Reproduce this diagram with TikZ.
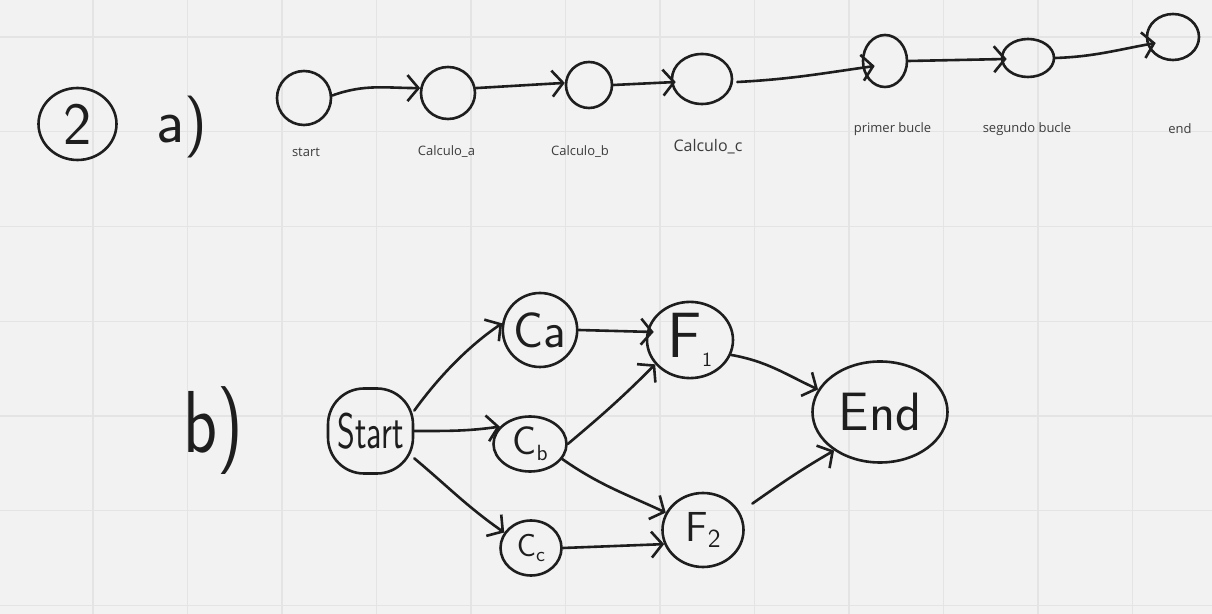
\documentclass[tikz,border=0pt]{standalone}
\usepackage{fontspec}
\newfontfamily\labelfont{Open Sans}
\usetikzlibrary{arrows.meta,shapes.geometric,calc}
\definecolor{paper}{HTML}{F2F2F2}
\definecolor{gridline}{HTML}{E4E4E4}
\definecolor{ink}{HTML}{1E1E1E}
\definecolor{labelgray}{HTML}{3C3C3C}
\newcommand\hwsize[1]{\sffamily\fontsize{#1}{#1}\selectfont}
\newcommand\hwsub[2]{\raisebox{-0.15em}{\fontsize{#1}{#1}\selectfont #2}}
\begin{document}
\begin{tikzpicture}[x=0.5pt,y=-0.5pt,
  ink line/.style={draw=ink, line width=1.3pt, line cap=round, line join=round},
  blob/.style={ellipse, ink line, inner sep=0pt, text=ink},
  flow/.style={ink line, -{Straight Barb[length=5.5pt,width=13pt]}},
  tag/.style={font=\labelfont\fontsize{6.5}{8}\selectfont, text=labelgray, inner sep=0pt},
  hand/.style={text=ink, inner sep=0pt},
]
% paper and grid
\fill[paper] (0,0) rectangle (1212,614);
\useasboundingbox (0,0) rectangle (1212,614);
\foreach \k in {0,...,11}
  \draw[gridline, line width=0.6pt] ({93+94.5*\k},0) -- ({93+94.5*\k},614);
\foreach \k in {0,...,6}
  \draw[gridline, line width=0.6pt] (0,{37+94.75*\k}) -- (1212,{37+94.75*\k});

% exercise number and part labels
\node[blob, minimum width=39pt, minimum height=36pt, font=\hwsize{30}] (two) at (77.5,124) {2};
\node[hand, font=\hwsize{31}, anchor=base west] (parta) at (156,143) {a)};
\node[hand, font=\hwsize{44}, anchor=base west] (partb) at (183,453) {\scalebox{0.8}[1]{b)}};

% part a): sequential chain
\node[blob, minimum width=27pt, minimum height=27pt] (s)  at (304,98) {};
\node[blob, minimum width=27pt, minimum height=26pt] (ca) at (448,93) {};
\node[blob, minimum width=23pt, minimum height=23pt] (cb) at (589,85) {};
\node[blob, minimum width=30pt, minimum height=25pt] (cc) at (702,79) {};
\node[blob, minimum width=22pt, minimum height=26pt] (pb) at (885,61) {};
\node[blob, minimum width=26pt, minimum height=19pt] (sb) at (1028,58) {};
\node[blob, minimum width=26pt, minimum height=23pt] (en) at (1173,37) {};

\node[tag] (ls)  at (306,152)   {start};
\node[tag] (lca) at (446.5,152) {Calculo\_a};
\node[tag] (lcb) at (580,152)   {Calculo\_b};
\node[tag, font=\labelfont\fontsize{8}{10}\selectfont] (lcc) at (708,147) {Calculo\_c};
\node[tag] (lpb) at (892.5,129) {primer bucle};
\node[tag] (lsb) at (1027,129)  {segundo bucle};
\node[tag] (len) at (1180,129)  {end};

\draw[flow] (s.5) to[out=20,in=180] (ca.170);
\draw[flow] (ca.10) -- (cb.175);
\draw[flow] (cb.east) -- ($(cc.west)+(5,3)$);
\draw[flow] ($(cc.east)+(4,3)$) to[out=3,in=188] ($(pb.west)+(13,5)$);
\draw[flow] (pb.east) -- ($(sb.west)+(6,1)$);
\draw[flow] (sb.east) to[out=2,in=190] ($(en.west)+(10,6)$);

% part b): parallel graph
\node[ink line, rounded corners=18pt, minimum width=42.5pt, minimum height=42.5pt,
      inner sep=0pt, text=ink, font=\hwsize{25}] (st) at (370.5,431)
      {\raisebox{-6pt}{\scalebox{0.68}[1]{Start}}};
\node[blob, minimum width=36.5pt, minimum height=37pt, font=\hwsize{25}] (Ca) at (540,330) {\raisebox{-2pt}{Ca}};
\node[blob, minimum width=36.5pt, minimum height=27.5pt, font=\hwsize{20}] (Cb) at (530,444) {C\hwsub{11}{b}};
\node[blob, minimum width=30.5pt, minimum height=27.5pt, font=\hwsize{16}] (Cc) at (531,548) {C\hwsub{10}{c}};
\node[blob, minimum width=43pt, minimum height=34.5pt, font=\hwsize{32}] (F1) at (690,340) {F\hwsub{10}{1}};
\node[blob, minimum width=40.5pt, minimum height=37pt, font=\hwsize{21}] (F2) at (703,530) {F\hwsub{13}{2}};
\node[blob, minimum width=67.5pt, minimum height=50.5pt, font=\hwsize{27}] (End) at (880,412) {\raisebox{-7pt}{End}};

\draw[flow] (st.25) .. controls (440,375) and (470,345) .. (Ca.170);
\draw[flow] (st.east) to[out=0,in=188] (Cb.150);
\draw[flow] (st.-32) to[out=-40,in=145] (Cc.150);
\draw[flow] (Ca.east) -- ($(F1.west)+(8,-8)$);
\draw[flow] (Cb.east) to[out=40,in=-135] (F1.-145);
\draw[flow] (Cb.-25) to[out=-35,in=155] (F2.155);
\draw[flow] (Cc.east) -- (F2.200);
\draw[flow] (F1.-20) to[out=-10,in=155] (End.160);
\draw[flow] ($(F2.30)+(14,-6)$) to[out=35,in=-150] (End.-140);
\end{tikzpicture}
\end{document}
